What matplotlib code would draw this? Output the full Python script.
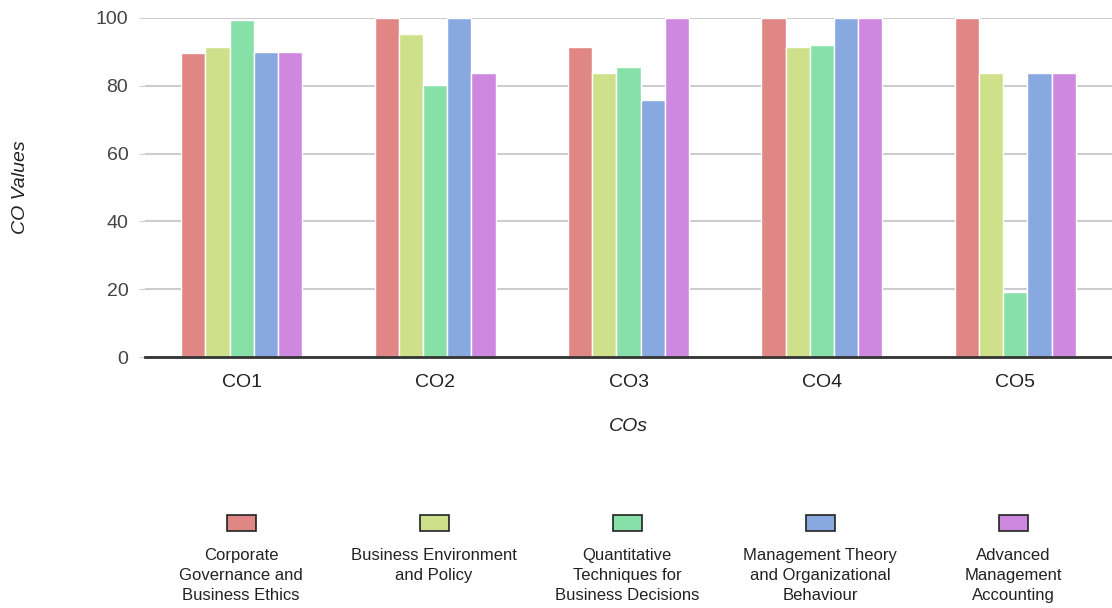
import matplotlib.pyplot as plt
import numpy as np
from matplotlib.patches import Rectangle

plt.rcParams['font.family'] = ['Liberation Sans', 'DejaVu Sans']

categories = ['CO1', 'CO2', 'CO3', 'CO4', 'CO5']
subjects = ['Corporate\nGovernance and\nBusiness Ethics',
            'Business Environment\nand Policy',
            'Quantitative\nTechniques for\nBusiness Decisions',
            'Management Theory\nand Organizational\nBehaviour',
            'Advanced\nManagement\nAccounting']
values = [
    [89.66, 100, 91.4, 100, 100],
    [91.4, 95.3, 83.8, 91.4, 83.8],
    [99.4, 80.2, 85.5, 92.0, 19.3],
    [90.0, 100, 75.8, 100, 83.8],
    [90.0, 83.8, 100, 100, 83.8],
]
colors = ['#e08785', '#cfe08a', '#88e0a9', '#88a9e0', '#ce88e0']

fig = plt.figure(figsize=(11.12, 6.08), dpi=100)
ax = fig.add_axes([145 / 1112, 1 - 357 / 608, 967 / 1112, 339 / 608])

x = np.arange(len(categories))
bw = 0.125
for i, vals in enumerate(values):
    ax.bar(x + (i - 2) * bw, vals, bw, color=colors[i], edgecolor='white', linewidth=1, zorder=3)

ax.set_xlim(-0.5, 4.5)
ax.set_ylim(0, 100)
ax.set_yticks([0, 20, 40, 60, 80, 100])
ax.set_xticks(x)
ax.set_xticklabels(categories)
ax.grid(axis='y', color='#cccccc', linewidth=1.5, zorder=0)
for s in ['top', 'right', 'left']:
    ax.spines[s].set_visible(False)
ax.spines['bottom'].set_color('#333333')
ax.spines['bottom'].set_linewidth(2)
ax.spines['bottom'].set_zorder(4)
ax.tick_params(axis='y', length=4, color='#cccccc', labelcolor='#444444', labelsize=14, pad=8)
ax.tick_params(axis='x', length=0, labelcolor='#222222', labelsize=14, pad=12)
ax.set_xlabel('COs', fontstyle='italic', fontsize=14, labelpad=20, color='#222222')
ax.set_ylabel('CO Values', fontstyle='italic', fontsize=14, labelpad=48, color='#222222')

centers = [241, 434, 627, 820, 1013]
for c, col, lab in zip(centers, colors, subjects):
    fig.patches.append(Rectangle(((c - 14) / 1112, 1 - 531 / 608), 29 / 1112, 16 / 608,
                                 transform=fig.transFigure, facecolor=col, edgecolor='#222222',
                                 linewidth=1.2))
    fig.text(c / 1112, 1 - 548 / 608, lab, ha='center', va='top', fontsize=12,
             color='#222222', linespacing=1.4)

plt.savefig('out.png', dpi=100)
